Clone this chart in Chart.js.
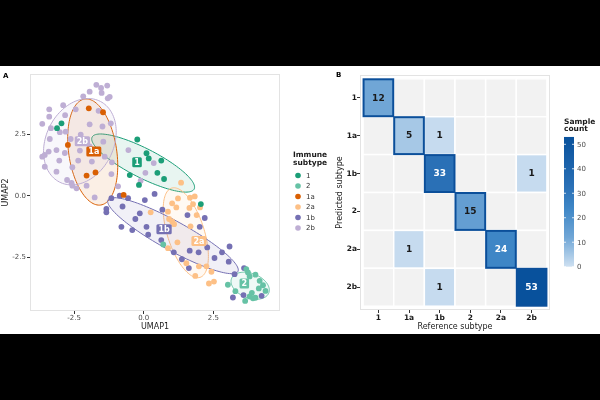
<!DOCTYPE html>
<html>
<head>
<meta charset="utf-8">
<script src="https://cdn.jsdelivr.net/npm/chart.js@4.4.1/dist/chart.umd.min.js"></script>
<style>
  html, body { margin: 0; padding: 0; background: #000; }
  #page { position: relative; width: 600px; height: 400px; background: #000; overflow: hidden; }
  #panel { position: absolute; left: 0; top: 66px; width: 600px; height: 268px; background: #fff; }
  #umapBox { position: absolute; left: 0; top: 0; width: 335px; height: 268px; }
  #heatBox { position: absolute; left: 335px; top: 0; width: 265px; height: 268px; }
</style>
</head>
<body>
<div id="page">
  <div id="panel">
    <div id="umapBox"><canvas id="umapChart"></canvas></div>
    <div id="heatBox"><canvas id="heatChart"></canvas></div>
  </div>
</div>
<script>
// ---- data: panel A (UMAP) ----
const subtypes = ['1', '2', '1a', '2a', '1b', '2b'];

const pts1 = [[-3.11, 2.75], [-2.95, 2.95], [-0.23, 2.29], [0.10, 1.73], [0.18, 1.52], [0.63, 1.43],
  [0.49, 0.93], [0.73, 0.68], [-0.50, 0.84], [-0.17, 0.44], [2.05, -0.34]];
const pts2 = [[3.02, -3.63], [3.29, -3.89], [3.68, -2.99], [3.80, -3.29], [4.01, -3.22], [4.16, -3.47],
  [4.28, -3.65], [4.37, -3.88], [4.13, -3.78], [3.88, -3.96], [3.80, -4.11], [3.64, -4.29],
  [3.92, -4.18], [4.01, -4.16], [0.70, -1.99], [3.74, -3.13]];
const pts1a = [[-1.97, 3.56], [-1.46, 3.40], [-2.72, 2.07], [-2.05, 0.82], [-1.73, 0.95], [-0.72, 0.03]];
const pts2a = [[1.34, 0.53], [1.02, -0.31], [1.23, -0.11], [1.66, -0.08], [1.83, -0.03], [1.64, -0.50],
  [2.02, -0.48], [1.90, -0.79], [0.25, -0.68], [0.87, -0.65], [0.91, -0.95], [1.02, -1.05],
  [1.09, -1.16], [1.68, -1.25], [0.87, -2.14], [1.21, -1.90], [1.53, -2.75], [1.85, -3.27],
  [1.98, -2.88], [2.25, -2.88], [2.43, -3.10], [2.34, -3.58], [2.52, -3.50], [1.17, -0.48], [1.77, -0.34]];
const pts1b = [[-1.16, -0.10], [-0.86, 0.00], [-0.56, -0.10], [-1.34, -0.54], [-1.34, -0.68], [-0.76, -0.44],
  [0.04, -0.18], [0.39, 0.07], [-0.30, -0.95], [-0.14, -0.72], [-0.80, -1.27], [-0.41, -1.40],
  [0.10, -1.27], [0.16, -1.59], [0.63, -1.81], [0.67, -0.57], [1.08, -2.31], [1.37, -2.59],
  [1.57, -0.79], [2.19, -0.91], [2.01, -1.27], [1.65, -2.24], [1.97, -2.31], [2.28, -2.11],
  [2.54, -2.54], [2.81, -2.31], [3.08, -2.07], [3.05, -2.69], [3.26, -3.20], [3.60, -2.95],
  [3.20, -4.15], [3.58, -4.05], [4.23, -4.08], [1.62, -2.95]];
const pts2b = [[-1.70, 4.52], [-1.53, 4.39], [-1.31, 4.49], [-1.51, 4.19], [-1.94, 4.24], [-2.17, 4.05],
  [-1.22, 4.03], [-1.29, 3.97], [-3.39, 3.52], [-2.89, 3.69], [-2.44, 3.52], [-2.82, 3.28],
  [-3.64, 2.93], [-3.39, 3.22], [-1.94, 2.91], [-1.48, 2.82], [-1.18, 2.95], [-1.62, 3.46],
  [-3.33, 2.75], [-3.01, 2.59], [-2.80, 2.61], [-2.62, 2.31], [-2.26, 2.49], [-1.45, 2.20],
  [-3.37, 2.31], [-3.64, 1.59], [-3.55, 1.66], [-3.41, 1.80], [-3.13, 1.86], [-2.83, 1.74],
  [-3.03, 1.43], [-3.55, 1.18], [-3.13, 0.98], [-2.75, 0.64], [-2.59, 0.52], [-2.56, 0.41],
  [-2.41, 0.30], [-2.05, 0.41], [-1.76, -0.07], [-2.35, 1.43], [-2.56, 1.16], [-1.16, 0.88],
  [-1.40, 1.59], [-2.29, 1.84], [-1.94, 2.01], [-1.86, 1.39], [-1.14, 1.36], [-0.92, 0.38],
  [-0.55, 1.86], [0.06, 0.93], [0.36, 1.33], [-0.11, 0.61]];
const groupPoints = [pts1, pts2, pts1a, pts2a, pts1b, pts2b];

// 95% ellipses per subtype: centre and two conjugate semi-axes, in UMAP units
const ellipseCenter = [[-0.02, 1.33], [3.82, -3.67], [-1.83, 1.78], [1.51, -1.51], [1.05, -1.63], [-2.29, 2.20]];
const ellipseAxisA = [[1.83, -1.06], [0.67, -0.29], [-0.29, 2.16], [-0.51, 1.82], [2.33, -1.46], [0.10, 1.74]];
const ellipseAxisB = [[-0.24, -0.53], [-0.155, -0.47], [0.85, 0.15], [0.63, 0.23], [-0.25, -0.52], [1.30, 0.27]];
const labelPos = [[-0.24, 1.36], [3.61, -3.58], [-1.79, 1.80], [1.98, -1.85], [0.73, -1.37], [-2.20, 2.22]];

// ---- data: panel B (confusion matrix), rows = predicted, cols = reference ----
const heatLabels = ['1', '1a', '1b', '2', '2a', '2b'];
const confusion = [
  [12, 0, 0, 0, 0, 0],
  [0, 5, 1, 0, 0, 0],
  [0, 0, 33, 0, 0, 1],
  [0, 0, 0, 15, 0, 0],
  [0, 1, 0, 0, 24, 0],
  [0, 0, 1, 0, 0, 53]
];
const countTicks = [0, 10, 20, 30, 40, 50];
const countMax = 53;

// ---- styles ----
const FONT = "'DejaVu Sans', sans-serif";
const subtypeColors = ['#1B9E77', '#66C2A5', '#D95F02', '#FDC086', '#7570B3', '#BEAED4'];
const colorStopValues = [0, 5, 12, 24, 33, 53];
const colorStopRGB = [[206, 224, 241], [166, 200, 230], [112, 166, 214], [62, 134, 198], [42, 112, 182], [8, 81, 156]];

function countColor(v) {
  for (let i = 1; i < colorStopValues.length; i++) {
    if (v <= colorStopValues[i]) {
      const t = (v - colorStopValues[i - 1]) / (colorStopValues[i] - colorStopValues[i - 1]);
      const a = colorStopRGB[i - 1], b = colorStopRGB[i];
      return 'rgb(' + a.map((c, k) => Math.round(c + (b[k] - c) * t)).join(',') + ')';
    }
  }
  return 'rgb(' + colorStopRGB[colorStopRGB.length - 1].join(',') + ')';
}

function hexAlpha(hex, a) {
  const n = parseInt(hex.slice(1), 16);
  return 'rgba(' + (n >> 16) + ',' + ((n >> 8) & 255) + ',' + (n & 255) + ',' + a + ')';
}

// Panel A plugins
const umapPanelPlugin = {
  id: 'umapPanel',
  beforeDatasetsDraw(chart) {
    const { ctx, chartArea: ca, scales: { x, y } } = chart;
    ctx.save();
    ctx.strokeStyle = '#e3e3e3';
    ctx.lineWidth = 1;
    ctx.strokeRect(ca.left + 0.5, ca.top + 0.5, ca.right - ca.left - 1, ca.bottom - ca.top - 1);
    // ellipses
    subtypes.forEach((s, i) => {
      const c = ellipseCenter[i], A = ellipseAxisA[i], B = ellipseAxisB[i];
      ctx.beginPath();
      for (let k = 0; k <= 120; k++) {
        const t = k / 120 * Math.PI * 2;
        const ux = c[0] + A[0] * Math.cos(t) + B[0] * Math.sin(t);
        const uy = c[1] + A[1] * Math.cos(t) + B[1] * Math.sin(t);
        const px = x.getPixelForValue(ux), py = y.getPixelForValue(uy);
        if (k === 0) ctx.moveTo(px, py); else ctx.lineTo(px, py);
      }
      ctx.closePath();
      ctx.fillStyle = hexAlpha(subtypeColors[i], 0.1);
      ctx.fill();
      ctx.strokeStyle = subtypeColors[i];
      ctx.lineWidth = 1;
      ctx.stroke();
    });
    ctx.restore();
  },
  afterDatasetsDraw(chart) {
    const { ctx, scales: { x, y } } = chart;
    ctx.save();
    ctx.font = 'bold 8px ' + FONT;
    ctx.textAlign = 'center';
    ctx.textBaseline = 'middle';
    subtypes.forEach((s, i) => {
      const px = x.getPixelForValue(labelPos[i][0]), py = y.getPixelForValue(labelPos[i][1]);
      const w = ctx.measureText(s).width + 4, h = 10;
      ctx.fillStyle = subtypeColors[i];
      ctx.beginPath();
      ctx.roundRect(px - w / 2, py - h / 2, w, h, 1.5);
      ctx.fill();
      ctx.fillStyle = '#fff';
      ctx.fillText(s, px, py + 0.5);
    });
    ctx.restore();
  },
  afterDraw(chart) {
    const ctx = chart.ctx;
    ctx.save();
    ctx.fillStyle = '#000';
    ctx.font = 'bold 7px ' + FONT;
    ctx.textBaseline = 'middle';
    ctx.fillText('A', 3, 10);
    // legend
    ctx.font = 'bold 7.5px ' + FONT;
    ctx.fillStyle = '#1a1a1a';
    ctx.fillText('Immune', 293, 89);
    ctx.fillText('subtype', 293, 97.5);
    ctx.font = '7px ' + FONT;
    subtypes.forEach((s, i) => {
      const yy = 109.5 + i * 10.5;
      ctx.fillStyle = subtypeColors[i];
      ctx.beginPath();
      ctx.arc(298, yy, 2.8, 0, Math.PI * 2);
      ctx.fill();
      ctx.fillStyle = '#333';
      ctx.fillText(s, 306, yy + 0.5);
    });
    ctx.restore();
  }
};

const axisTicks = { drawOnChartArea: false, drawTicks: true, tickLength: 3, color: '#333', lineWidth: 1 };

new Chart(document.getElementById('umapChart'), {
  type: 'scatter',
  data: {
    datasets: subtypes.map((s, i) => ({
      label: s,
      data: groupPoints[i].map(p => ({ x: p[0], y: p[1] })),
      backgroundColor: subtypeColors[i],
      borderWidth: 0,
      pointRadius: 2.9,
      pointHoverRadius: 2.9
    }))
  },
  options: {
    responsive: true,
    maintainAspectRatio: false,
    animation: false,
    layout: { padding: { left: 0, right: 55, top: 8, bottom: 0 } },
    plugins: { legend: { display: false }, tooltip: { enabled: false } },
    scales: {
      x: {
        type: 'linear', min: -4.08, max: 4.89,
        afterFit: s => { s.height = 23; },
        grid: axisTicks, border: { display: false },
        ticks: { stepSize: 2.5, includeBounds: false, padding: 0, maxRotation: 0, color: '#4d4d4d',
          font: { family: FONT, size: 7 }, callback: v => v.toFixed(1) },
        title: { display: true, text: 'UMAP1', color: '#1a1a1a', font: { family: FONT, size: 8 }, padding: { top: 0, bottom: 2 } }
      },
      y: {
        type: 'linear', min: -4.70, max: 4.96,
        afterFit: s => { s.width = 30; },
        grid: axisTicks, border: { display: false },
        ticks: { stepSize: 2.5, includeBounds: false, padding: 1, color: '#4d4d4d',
          font: { family: FONT, size: 7 }, callback: v => v.toFixed(1) },
        title: { display: true, text: 'UMAP2', color: '#1a1a1a', font: { family: FONT, size: 8 }, padding: { top: 1, bottom: 0 } }
      }
    }
  },
  plugins: [umapPanelPlugin]
});

// Panel B plugins
const tilePlugin = {
  id: 'tiles',
  beforeDatasetsDraw(chart) {
    const { ctx, chartArea: ca, scales: { x, y } } = chart;
    const cells = chart.data.datasets[0].data;
    const rectOf = d => {
      const x0 = x.getPixelForValue(d.x - 0.5), x1 = x.getPixelForValue(d.x + 0.5);
      const y0 = y.getPixelForValue(d.y - 0.5), y1 = y.getPixelForValue(d.y + 0.5);
      return [Math.min(x0, x1), Math.min(y0, y1), Math.abs(x1 - x0), Math.abs(y1 - y0)];
    };
    ctx.save();
    ctx.strokeStyle = '#e3e3e3';
    ctx.lineWidth = 1;
    ctx.strokeRect(ca.left + 0.5, ca.top + 0.5, ca.right - ca.left - 1, ca.bottom - ca.top - 1);
    cells.forEach(d => {
      const r = rectOf(d);
      ctx.fillStyle = d.v > 0 ? countColor(d.v) : '#f2f2f2';
      ctx.fillRect(r[0], r[1], r[2], r[3]);
      ctx.strokeStyle = '#fff';
      ctx.lineWidth = 1.5;
      ctx.strokeRect(r[0], r[1], r[2], r[3]);
    });
    cells.filter(d => d.x === d.y).forEach(d => {
      const r = rectOf(d);
      ctx.strokeStyle = '#0b4f9a';
      ctx.lineWidth = 2;
      ctx.strokeRect(r[0] + 0.5, r[1] + 0.5, r[2] - 1, r[3] - 1);
    });
    ctx.font = 'bold 9px ' + FONT;
    ctx.textAlign = 'center';
    ctx.textBaseline = 'middle';
    cells.filter(d => d.v > 0).forEach(d => {
      ctx.fillStyle = d.v > 20 ? '#fff' : '#1a1a1a';
      ctx.fillText(String(d.v), x.getPixelForValue(d.x), y.getPixelForValue(d.y) + 0.5);
    });
    ctx.restore();
  },
  afterDraw(chart) {
    const ctx = chart.ctx;
    ctx.save();
    ctx.fillStyle = '#000';
    ctx.font = 'bold 7px ' + FONT;
    ctx.textBaseline = 'middle';
    ctx.fillText('B', 1, 9.5);
    // colour bar
    const left = 229, width = 10, yZero = 200.7, perUnit = 2.448;
    const top = yZero - countMax * perUnit;
    const grad = ctx.createLinearGradient(0, yZero, 0, top);
    colorStopValues.forEach(v => grad.addColorStop(v / countMax, countColor(v)));
    ctx.fillStyle = grad;
    ctx.fillRect(left, top, width, yZero - top);
    ctx.font = '7px ' + FONT;
    ctx.textAlign = 'left';
    countTicks.forEach(t => {
      const yy = yZero - t * perUnit;
      ctx.strokeStyle = '#fff';
      ctx.lineWidth = 0.8;
      ctx.beginPath();
      ctx.moveTo(left, yy); ctx.lineTo(left + 2, yy);
      ctx.moveTo(left + width - 2, yy); ctx.lineTo(left + width, yy);
      ctx.stroke();
      ctx.fillStyle = '#4d4d4d';
      ctx.fillText(String(t), left + width + 3, yy + 0.5);
    });
    ctx.fillStyle = '#1a1a1a';
    ctx.font = 'bold 7.5px ' + FONT;
    ctx.fillText('Sample', left, 56);
    ctx.fillText('count', left, 63.5);
    ctx.restore();
  }
};

const cellData = [];
confusion.forEach((row, r) => row.forEach((v, c) => cellData.push({ x: c + 1, y: r + 1, v: v })));

const heatTickFont = { family: FONT, size: 7.5, weight: 'bold' };

new Chart(document.getElementById('heatChart'), {
  type: 'scatter',
  data: { datasets: [{ label: 'count', data: cellData, pointRadius: 0, pointHoverRadius: 0 }] },
  options: {
    responsive: true,
    maintainAspectRatio: false,
    animation: false,
    layout: { padding: { left: 0, right: 50, top: 9, bottom: 0 } },
    plugins: { legend: { display: false }, tooltip: { enabled: false } },
    scales: {
      x: {
        type: 'linear', min: 0.4, max: 6.6,
        afterFit: s => { s.height = 24; },
        grid: axisTicks, border: { display: false },
        ticks: { stepSize: 1, includeBounds: false, padding: 1, maxRotation: 0, autoSkip: false, color: '#1a1a1a',
          font: heatTickFont, callback: v => heatLabels[v - 1] || '' },
        title: { display: true, text: 'Reference subtype', color: '#1a1a1a', font: { family: FONT, size: 8 }, padding: { top: 0, bottom: 2.5 } }
      },
      y: {
        type: 'linear', min: 0.4, max: 6.6, reverse: true,
        afterFit: s => { s.width = 25; },
        grid: axisTicks, border: { display: false },
        ticks: { stepSize: 1, includeBounds: false, padding: 0, autoSkip: false, color: '#1a1a1a',
          font: heatTickFont, callback: v => heatLabels[v - 1] || '' },
        title: { display: true, text: 'Predicted subtype', color: '#1a1a1a', font: { family: FONT, size: 8 }, padding: { top: 0, bottom: 0 } }
      }
    }
  },
  plugins: [tilePlugin]
});
</script>
</body>
</html>
